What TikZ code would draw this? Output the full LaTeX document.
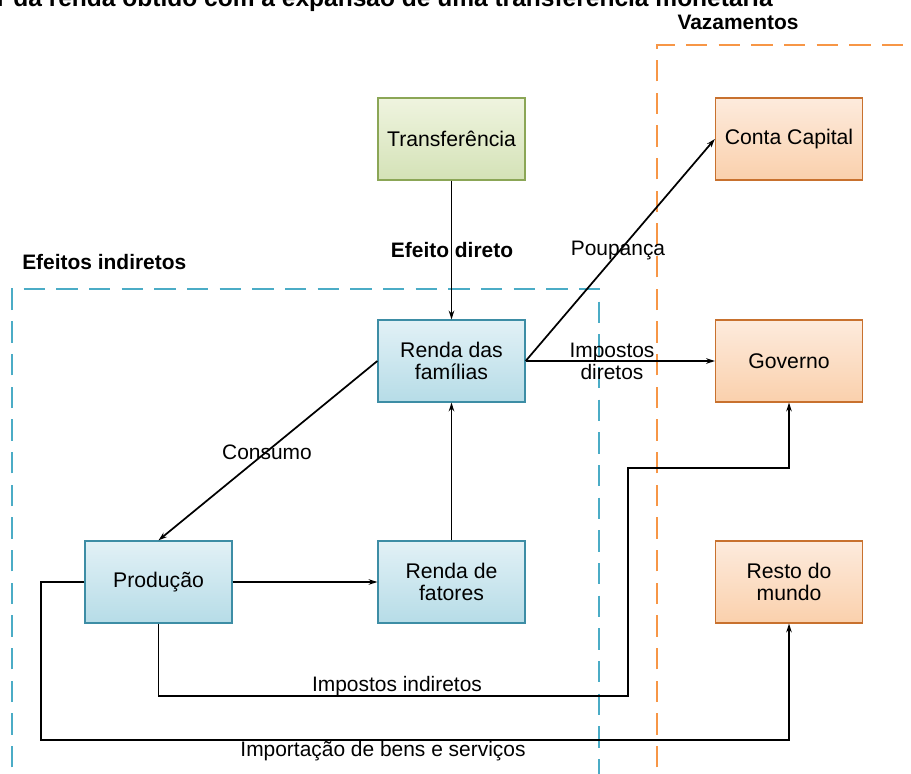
\documentclass[tikz,border=0pt]{standalone}
\usepackage{fontspec}
\setmainfont{Liberation Sans}
\usetikzlibrary{arrows.meta}
\definecolor{bluedash}{HTML}{4BACC6}
\definecolor{orangedash}{HTML}{F79646}
\definecolor{blueborder}{HTML}{3D8DA5}
\definecolor{bluetop}{HTML}{E2F1F6}
\definecolor{bluebot}{HTML}{B6DCE7}
\definecolor{greenborder}{HTML}{8BA656}
\definecolor{greentop}{HTML}{EFF4DF}
\definecolor{greenbot}{HTML}{D4E2B7}
\definecolor{orangeborder}{HTML}{C8712E}
\definecolor{orangetop}{HTML}{FDEBDD}
\definecolor{orangebot}{HTML}{FAD0AC}
\tikzset{
  box/.style={draw, line width=1pt, minimum width=110.25pt, minimum height=61.5pt,
    align=center, inner sep=2pt, font=\fontsize{15.9}{16.5}\selectfont},
  bluebox/.style={box, draw=blueborder, top color=bluetop, bottom color=bluebot},
  greenbox/.style={box, draw=greenborder, top color=greentop, bottom color=greenbot},
  orangebox/.style={box, draw=orangeborder, top color=orangetop, bottom color=orangebot},
  conn/.style={line width=1.3pt, -{Stealth[length=6.5pt,width=4.2pt]}},
  lbl/.style={font=\fontsize{15.7}{16.5}\selectfont, align=center, inner sep=0pt},
  blbl/.style={font=\bfseries\fontsize{15.7}{16.5}\selectfont, inner sep=0pt},
  bluedashed/.style={draw=bluedash, line width=1.5pt, dash pattern=on 16pt off 8.5pt},
  orangedashed/.style={draw=orangedash, line width=1.5pt, dash pattern=on 16pt off 8.5pt},
}
\begin{document}
\begin{tikzpicture}[x=0.75pt,y=-0.75pt]
\useasboundingbox (0,0) rectangle (911,774);
\clip (0,0) rectangle (911,774);

% title (cut at top in the reference)
\node[font=\bfseries\fontsize{18.4}{20}\selectfont, anchor=base east, inner sep=0pt] (title) at (773,7)
  {r da renda obtido com a expansão de uma transferência monetária};

% group frames
\draw[bluedashed] (12,800) -- (12,289) -- (599,289) -- (599,800);
\draw[orangedashed] (657,800) -- (657,45) -- (930,45);
\node[blbl, anchor=west] (efind) at (22,262) {Efeitos indiretos};
\node[blbl] (vaz) at (738,22) {Vazamentos};

% boxes
\node[greenbox] (trans) at (451.5,139) {Transferência};
\node[orangebox] (conta) at (789,139) {Conta Capital};
\node[bluebox] (renda) at (451.5,361) {Renda das\\famílias};
\node[orangebox] (gov) at (789,361) {Governo};
\node[bluebox] (prod) at (158.5,582) {Produção};
\node[bluebox] (fat) at (451.5,582) {Renda de\\fatores};
\node[orangebox] (resto) at (789,582) {Resto do\\mundo};

% helper coordinates
\coordinate (ii1) at (628,696);
\coordinate (ii2) at (628,468);
\coordinate (im1) at (41,740);

% connectors
\draw[conn] (trans.south) -- (renda.north);
\draw[conn] (renda.east) -- (conta.west);
\draw[conn] (renda.east) -- (gov.west);
\draw[conn] (renda.west) -- (prod.north);
\draw[conn] (prod.east) -- (fat.west);
\draw[conn] (fat.north) -- (renda.south);
\draw[conn] (prod.south) |- (ii1) -- (ii2) -| (gov.south);
\draw[conn] (prod.west) -| (im1) -| (resto.south);

% labels
\node[blbl] (efdir) at (452,250) {Efeito direto};
\node[lbl] (poup) at (618,251) {Poupança};
\node[lbl] (impdir) at (612,361) {Impostos\\diretos};
\node[lbl] (cons) at (267,452) {Consumo};
\node[lbl] (impind) at (397,686) {Impostos indiretos};
\node[lbl] (imp) at (383,751) {Importação de bens e serviços};
\end{tikzpicture}
\end{document}
